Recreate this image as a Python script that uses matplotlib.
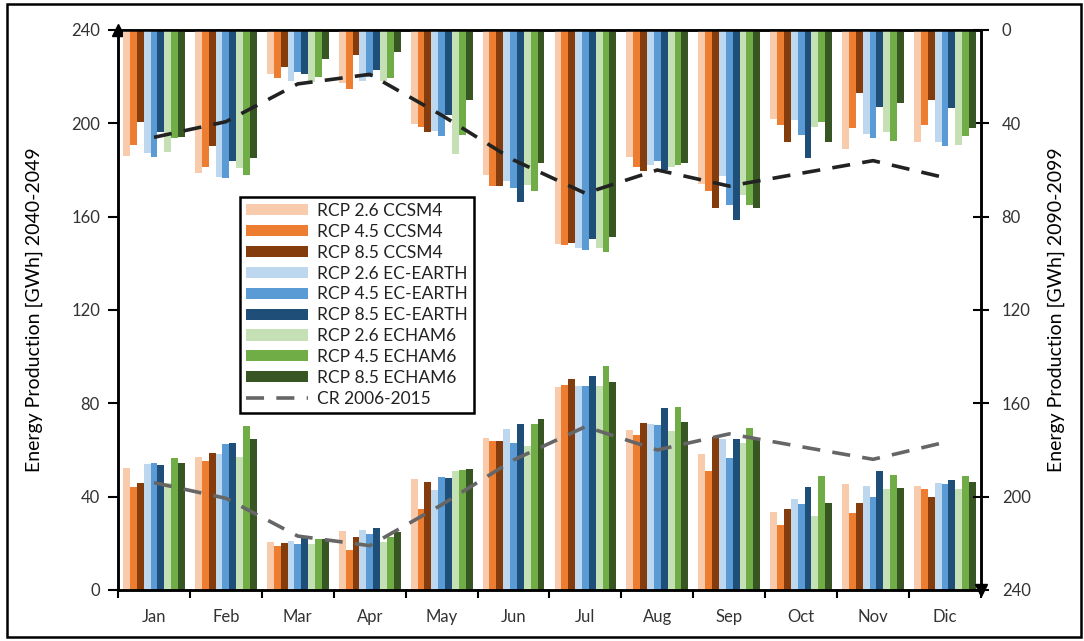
import matplotlib
matplotlib.use("Agg")
import matplotlib.pyplot as plt
import numpy as np
from matplotlib.patches import Patch, Rectangle
from matplotlib.lines import Line2D

plt.rcParams['font.family'] = ['Lato', 'DejaVu Sans']

months = ["Jan", "Feb", "Mar", "Apr", "May", "Jun", "Jul", "Aug", "Sep", "Oct", "Nov", "Dic"]
series_names = ["RCP 2.6 CCSM4", "RCP 4.5 CCSM4", "RCP 8.5 CCSM4",
                "RCP 2.6 EC-EARTH", "RCP 4.5 EC-EARTH", "RCP 8.5 EC-EARTH",
                "RCP 2.6 ECHAM6", "RCP 4.5 ECHAM6", "RCP 8.5 ECHAM6"]
colors = ["#F8CBAD", "#ED7D31", "#843C0C",
          "#BDD7EE", "#5B9BD5", "#1F4E79",
          "#C5E0B4", "#70AD47", "#375623"]

# 2040-2049 (left axis, bars from bottom)
near_26_ccsm4 = [52.2, 56.9, 20.4, 25.4, 47.6, 65.1, 87.0, 68.4, 58.3, 33.3, 45.3, 44.4]
near_45_ccsm4 = [44.0, 55.1, 19.0, 17.1, 34.6, 63.9, 88.0, 66.4, 51.0, 27.7, 32.9, 43.4]
near_85_ccsm4 = [45.7, 58.7, 20.0, 22.7, 46.1, 63.9, 90.6, 71.7, 65.6, 34.7, 37.4, 39.7]
near_26_ecearth = [54.0, 58.3, 20.9, 25.9, 43.0, 68.9, 87.4, 71.1, 64.7, 38.9, 44.4, 45.7]
near_45_ecearth = [54.6, 62.4, 19.9, 24.1, 48.6, 62.9, 87.4, 70.7, 56.4, 37.0, 39.7, 45.3]
near_85_ecearth = [53.6, 62.9, 22.9, 26.4, 48.1, 71.3, 91.6, 78.1, 64.7, 44.0, 50.9, 47.1]
near_26_echam6 = [45.7, 56.9, 19.9, 20.4, 50.9, 61.6, 87.4, 68.0, 62.9, 31.9, 43.4, 43.4]
near_45_echam6 = [56.4, 70.3, 21.7, 22.7, 51.3, 71.1, 96.1, 78.6, 69.3, 49.0, 49.4, 49.0]
near_85_echam6 = [54.6, 64.7, 21.7, 25.0, 51.9, 73.4, 89.3, 72.1, 64.3, 37.4, 43.9, 46.4]

# 2090-2099 (right inverted axis, bars hanging from top)
far_26_ccsm4 = [54.0, 61.1, 18.7, 22.6, 40.4, 62.3, 91.7, 54.3, 65.9, 38.3, 51.1, 47.9]
far_45_ccsm4 = [49.3, 58.6, 20.4, 25.1, 41.4, 66.9, 92.1, 58.6, 69.0, 40.9, 41.9, 40.9]
far_85_ccsm4 = [39.6, 49.7, 16.0, 10.7, 43.7, 66.9, 91.1, 60.3, 76.4, 47.9, 27.0, 29.9]
far_26_ecearth = [52.6, 62.9, 21.9, 21.9, 43.1, 64.7, 93.6, 57.9, 62.4, 38.6, 44.6, 47.9]
far_45_ecearth = [54.4, 63.3, 17.9, 20.0, 45.4, 67.7, 94.4, 56.1, 75.1, 45.0, 46.4, 49.7]
far_85_ecearth = [43.9, 56.1, 18.7, 17.1, 36.4, 73.7, 89.4, 60.0, 81.6, 54.7, 33.0, 33.6]
far_26_echam6 = [52.1, 59.0, 22.1, 21.9, 53.3, 66.4, 93.6, 58.9, 70.6, 41.4, 43.7, 49.1]
far_45_echam6 = [46.4, 62.1, 20.1, 20.4, 45.0, 69.1, 95.0, 57.9, 75.1, 39.6, 47.4, 45.4]
far_85_echam6 = [46.0, 55.0, 12.6, 9.3, 29.9, 56.9, 88.9, 56.9, 76.4, 47.9, 31.3, 41.9]

# Control run 2006-2015
cr_2006_2015 = [46.0, 39.3, 23.1, 19.0, 36.5, 55.7, 70.0, 60.0, 66.9, 61.4, 56.0, 63.3]

near = [near_26_ccsm4, near_45_ccsm4, near_85_ccsm4, near_26_ecearth, near_45_ecearth,
        near_85_ecearth, near_26_echam6, near_45_echam6, near_85_echam6]
far = [far_26_ccsm4, far_45_ccsm4, far_85_ccsm4, far_26_ecearth, far_45_ecearth,
       far_85_ecearth, far_26_echam6, far_45_echam6, far_85_echam6]

fig = plt.figure(figsize=(10.84, 6.41), dpi=100)
ax = fig.add_axes([0.1089, 0.0796, 0.796, 0.8736])
ax2 = ax.twinx()

x = np.arange(len(months))
n = len(series_names)
group = 0.86
bw = group / n
for i in range(n):
    off = -group / 2 + bw * (i + 0.5)
    ax.bar(x + off, near[i], width=bw, color=colors[i], linewidth=0, zorder=2)
    ax2.bar(x + off, far[i], width=bw, color=colors[i], linewidth=0, zorder=2)

dash = (5, 3.4)
ax.plot(x, cr_2006_2015, color="#666666", lw=2.6, dashes=dash, zorder=3)
ax2.plot(x, cr_2006_2015, color="#222222", lw=2.6, dashes=dash, zorder=3)

ax.set_xlim(-0.5, 11.5)
ax.set_ylim(0, 240)
ax2.set_ylim(240, 0)
ticks = [0, 40, 80, 120, 160, 200, 240]
ax.set_yticks(ticks)
ax2.set_yticks(ticks)

ax.set_xticks(np.arange(-0.5, 12, 1))
ax.set_xticklabels([])
ax.set_xticks(x, minor=True)
ax.set_xticklabels(months, minor=True)
ax.tick_params(axis='x', which='major', direction='out', length=6, width=1.5)
ax.tick_params(axis='x', which='minor', length=0, pad=14, labelsize=12, labelcolor="#333333")
ax.tick_params(axis='y', direction='out', length=7, width=1.5, labelsize=12, pad=6, labelcolor="#333333")
ax2.tick_params(axis='y', direction='inout', length=12, width=1.5, labelsize=12, pad=9, labelcolor="#333333")

for a in (ax, ax2):
    for s in a.spines.values():
        s.set_linewidth(1.8)
        s.set_color("black")

ax.set_ylabel("Energy Production [GWh] 2040-2049", fontsize=14, labelpad=20)
ax2.set_ylabel("Energy Production [GWh] 2090-2099", fontsize=14, labelpad=12)

# axis arrows
ax.plot([0], [1], marker='^', color='black', markersize=8, transform=ax.transAxes, clip_on=False, zorder=5)
ax2.plot([1], [0], marker='v', color='black', markersize=8, transform=ax2.transAxes, clip_on=False, zorder=5)

handles = [Patch(facecolor=c, edgecolor='none') for c in colors]
handles.append(Line2D([0], [0], color="#666666", lw=2.6, dashes=dash))
labels = series_names + ["CR 2006-2015"]
leg = ax2.legend(handles, labels, loc='upper left', bbox_to_anchor=(0.141, 0.702),
                 borderaxespad=0, fancybox=False, framealpha=1, edgecolor='black',
                 fontsize=12.5, handlelength=3.6, handleheight=0.6, labelspacing=0.28,
                 handletextpad=0.5, borderpad=0.35)
leg.get_frame().set_linewidth(1.8)
for t in leg.get_texts():
    t.set_color("#222222")
leg.set_zorder(10)

fig.patches.append(Rectangle((0.006, 0.006), 0.991, 0.988, transform=fig.transFigure,
                             fill=False, edgecolor='black', linewidth=1.8))

fig.savefig("out.png", dpi=100)
